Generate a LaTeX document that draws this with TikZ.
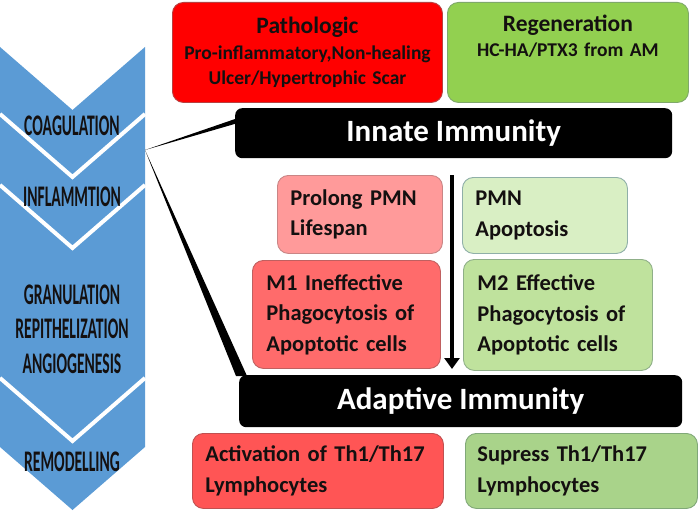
\documentclass[tikz,border=0pt]{standalone}
\usepackage{fontspec}
\setmainfont{Carlito}
\usetikzlibrary{arrows.meta,calc}
\definecolor{colblue}{HTML}{5B9BD5}
\definecolor{redA}{HTML}{FF0000}
\definecolor{redAline}{HTML}{B84040}
\definecolor{greenA}{HTML}{92D050}
\definecolor{greenAline}{HTML}{7FA86A}
\definecolor{pinkB}{HTML}{FF9A9A}
\definecolor{pinkBline}{HTML}{C98585}
\definecolor{lgreenB}{HTML}{D9EFC4}
\definecolor{lgreenBline}{HTML}{8FAFA8}
\definecolor{redC}{HTML}{FF6B6B}
\definecolor{redCline}{HTML}{C06060}
\definecolor{greenC}{HTML}{BFE29D}
\definecolor{greenCline}{HTML}{8FAF88}
\definecolor{redD}{HTML}{FF5555}
\definecolor{redDline}{HTML}{C05050}
\definecolor{greenD}{HTML}{A9D38A}
\definecolor{greenDline}{HTML}{80A878}
\definecolor{txtdark}{HTML}{141010}
\newcommand\myBody{\fontsize{22.5pt}{30.5pt}\selectfont\bfseries}
\newcommand\mySub{\fontsize{19.5pt}{25.5pt}\selectfont\bfseries}
\newcommand\myBig{\fontsize{31pt}{34pt}\selectfont\bfseries}
\newcommand\myChev{\fontsize{22pt}{34.5pt}\selectfont\bfseries}
\newcommand\cnd[1]{\scalebox{0.71}[1.36]{#1}}
\begin{document}
\begin{tikzpicture}[x=1pt,y=-1pt,
  base/.style={rounded corners=11pt, line width=0.9pt, anchor=north west, inner ysep=0pt, text=txtdark},
  lbox/.style={base, align=left, font=\myBody},
  tbox/.style={base, align=center, font=\mySub, inner xsep=6pt},
  blackbox/.style={fill=black, rounded corners=7pt, anchor=north west, inner sep=0pt, text=white, font=\myBig},
  chev/.style={font=\myChev, text=txtdark, align=center, inner sep=0pt},
  wedge/.style={fill=black},
  downarrow/.style={line width=4.5pt, -{Triangle[width=15pt,length=11pt]}}
]
\useasboundingbox (0,0) rectangle (699,511);

% chevron column
\fill[colblue] (0,47) -- (72.5,110) -- (145,47) -- (145,447) -- (72.5,510) -- (0,447) -- cycle;
\draw[white, line width=4pt, line join=miter] (0,114) -- (72.5,177) -- (145,114);
\draw[white, line width=4pt, line join=miter] (0,185) -- (72.5,248) -- (145,185);
\draw[white, line width=4pt, line join=miter] (0,378) -- (72.5,441) -- (145,378);

\node[chev] (coag) at (72,126) {\cnd{COAGULATION}};
\node[chev] (infl) at (72,197) {\cnd{INFLAMMTION}};
\node[chev] (gran) at (72,329) {\cnd{GRANULATION}\\\cnd{REPITHELIZATION}\\\cnd{ANGIOGENESIS}};
\node[chev] (remo) at (72,462) {\cnd{REMODELLING}};

% top boxes
\node[tbox, draw=redAline, fill=redA, text width=258pt, minimum height=100pt] (path) at (172,2)
  {{\fontsize{23.5pt}{25.5pt}\selectfont Pathologic}\\Pro-inflammatory,Non-healing\\Ulcer/Hypertrophic Scar};
\node[tbox, draw=greenAline, fill=greenA, text width=229pt, minimum height=100pt] (regen) at (447,2)
  {{\fontsize{23.5pt}{25.5pt}\selectfont Regeneration}\\HC-HA/PTX3 from AM\\\strut};

% black bars
\node[blackbox, minimum width=437pt, minimum height=50pt] (innate) at (235,108) {Innate Immunity};
\node[blackbox, minimum width=443pt, minimum height=52pt] (adaptive) at (239,375) {Adaptive Immunity};

% middle boxes
\node[lbox, draw=pinkBline, fill=pinkB, inner xsep=13pt, text width=139pt, minimum height=78pt] (prolong) at (277,175)
  {\mbox{Prolong PMN}\\\mbox{Lifespan}};
\node[lbox, draw=lgreenBline, fill=lgreenB, inner xsep=13pt, text width=139pt, minimum height=76pt] (apop) at (462,177)
  {\mbox{PMN}\\\mbox{Apoptosis}};
\node[lbox, draw=redCline, fill=redC, inner xsep=14pt, text width=160pt, minimum height=108pt] (mone) at (252,260)
  {\mbox{M1 Ineffective}\\\mbox{Phagocytosis of}\\\mbox{Apoptotic cells}};
\node[lbox, draw=greenCline, fill=greenC, inner xsep=14pt, text width=161pt, minimum height=111pt] (mtwo) at (463,259)
  {\mbox{M2 Effective}\\\mbox{Phagocytosis of}\\\mbox{Apoptotic cells}};

% bottom boxes
\node[lbox, draw=redDline, fill=redD, inner xsep=13pt, text width=225pt, minimum height=75pt] (act) at (192,433)
  {\mbox{Activation of Th1/Th17}\\\mbox{Lymphocytes}};
\node[lbox, draw=greenDline, fill=greenD, inner xsep=12pt, text width=208pt, minimum height=75pt] (sup) at (465,433)
  {\mbox{Supress Th1/Th17}\\\mbox{Lymphocytes}};

% connectors
\coordinate (hub) at (145,150);
\fill[wedge] (hub) -- ($(innate.north west)+(3,10)$) -- ($(innate.north west)+(3,15)$) -- cycle;
\fill[wedge] (hub) -- ($(adaptive.north west)+(-3,1)$) -- ($(adaptive.north west)+(8,1)$) -- cycle;

\coordinate (atop) at (452,175);
\coordinate (abot) at (452,369);
\draw[downarrow] (atop) -- (abot);
\end{tikzpicture}
\end{document}
